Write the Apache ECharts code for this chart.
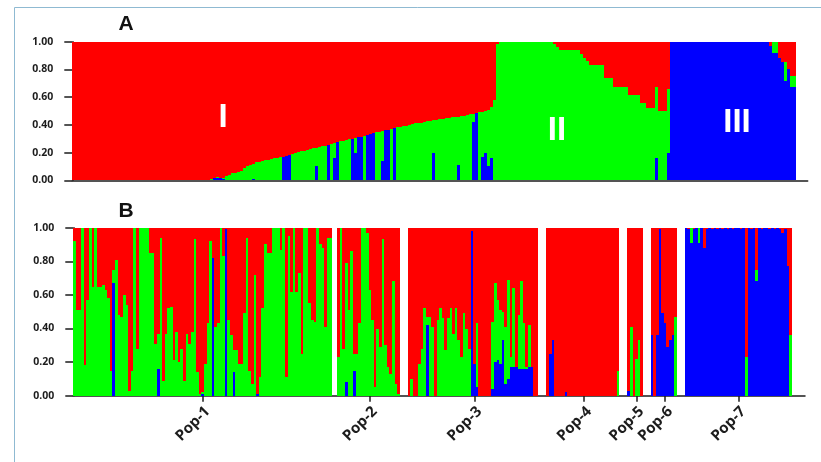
<!DOCTYPE html>
<html><head><meta charset="utf-8">
<script src="https://cdn.jsdelivr.net/npm/echarts@6/dist/echarts.min.js"></script>
<style>html,body{margin:0;padding:0;background:#fff}#c{width:821px;height:462px}</style>
</head><body><div id="c"></div>
<script>
// ---------- tick labels ----------
const yTicks = ['0.00','0.20','0.40','0.60','0.80','1.00'];
const panelLetters = ['A','B'];
const groupNames = ['I','II','III'];

// ---------- Panel A (sorted individuals, K = 3; red = remainder) ----------
const greenA = [
0,0,0,0,0,0,0,0,0,0, 0,0,0,0,0,0,0,0,0,0, 0,0,0,0,0,0,0,0,0,0, 0,0,0,0,0,0,0,0,0,0,
0,0,0,0,0,0,.01,0,.005,0,
.01,.03,.04,.05,.05,.06,.07,.09,.10,.11,
.11,.13,.135,.14,.145,.15,.155,.16,.16,.165,
0,0,0,.19,.20,.205,.21,.215,.22,.225,
.23,.135,.24,.245,.25,0,.265,.11,0,.28,
.285,.29,.295,0,.105,0,0,.32,0,0,
0,.345,.35,.215,0,0,.37,0,.383,.387,
.39,.395,.40,.405,.41,.413,.417,.42,.425,.43,
.235,.438,.44,.445,.448,.45,.455,.458,.35,.463,
.467,.471,.475,.06,0,.49,.325,.30,.41,.37,
.58,.98,1,1,1,1,1,1,1,1,
1,1,1,1,1,1,1,1,1,1,
.98,.96,.94,.94,.94,.94,.94,.94,.94,.91,
.88,.86,.83,.83,.83,.83,.83,.74,.74,.74,
.675,.675,.675,.675,.675,.615,.615,.615,.615,.557,
.557,.52,.52,.52,.515,.50,.50,.50,.46,0,
0,0,0,0,0,0,0,0,0,0, 0,0,0,0,0,0,0,0,0,0, 0,0,0,0,0,0,0,0,0,0,
0,0,0,.08,.08,0,0,.13,0,.08,
.08];
const blueA = [
0,0,0,0,0,0,0,0,0,0, 0,0,0,0,0,0,0,0,0,0, 0,0,0,0,0,0,0,0,0,0, 0,0,0,0,0,0,0,0,0,0,
0,0,0,0,0,0,0,.02,.02,.02,
.01,0,0,0,0,0,0,0,0,0,
.01,0,0,0,0,0,0,0,0,0,
.17,.175,.18,0,0,0,0,0,0,0,
0,.10,0,0,0,.255,0,.16,.275,0,
0,0,0,.30,.20,.31,.315,0,.327,.333,
.34,0,0,.14,.36,.365,0,.38,0,0,
0,0,0,0,0,0,0,0,0,0,
.20,0,0,0,0,0,0,0,.11,0,
0,0,0,.42,.485,0,.17,.20,.10,.16,
0,0,0,0,0,0,0,0,0,0, 0,0,0,0,0,0,0,0,0,0, 0,0,0,0,0,0,0,0,0,0,
0,0,0,0,0,0,0,0,0,0, 0,0,0,0,0,0,0,0,0,0,
0,0,0,0,.16,0,0,0,.20,1,
1,1,1,1,1,1,1,1,1,1, 1,1,1,1,1,1,1,1,1,1, 1,1,1,1,1,1,1,1,1,1,
1,1,.97,.92,.92,.88,.85,.72,.80,.67,
.67];

// ---------- Panel B (individuals grouped by population; red = remainder) ----------
const popNames = ['Pop-1','Pop-2','Pop-3','Pop-4','Pop-5','Pop-6','Pop-7'];
const pop1Green = [
.92,.51,.51,1,.18,.57,1,.65,1,.65,
.65,.66,.63,.58,.15,.08,.81,.48,.47,.60,
.54,.03,.15,1,.28,1,1,1,1,.85,
.85,.31,.21,.94,.09,.37,.52,.53,.21,.38,
.20,.28,.09,.37,.31,.38,.93,.14,.01,.01,
.19,.43,.92,0,.41,.43,1,.83,0,.45,
.36,.13,.27,.19,.19,.49,.94,.15,.07,.72,
0,.11,.52,.90,.85,.85,1,1,1,.87,
1,.11,.95,.62,1,.62,.73,.25,1,1,
.55,.45,.44,1,.90,.88,.41,.94,.94];
const pop1Blue = [
0,0,0,0,0,0,0,0,0,0,
0,0,0,0,0,.67,0,0,0,0,
0,0,0,0,0,0,0,0,0,0,
0,0,.16,0,0,0,0,0,0,0,
0,0,0,0,0,0,0,0,0,.01,
0,0,0,.82,0,0,0,0,.99,0,
0,.14,0,0,0,0,0,0,0,0,
.01,0,0,0,0,0,0,0,0,0,
0,0,0,0,0,0,0,0,0,0,
0,0,0,0,0,0,0,0,0];
const pop2Green = [.23,1,.28,.71,.51,.86,.10,.25,.43,1, 1,.97,.63,.45,.05,.40,.29,.93,.30,.17, .13,.68,.07,.01];
const pop2Blue  = [0,0,0,.08,0,0,.15,0,0,0, 0,0,0,0,0,0,0,0,0,0, 0,0,0,0];
const pop3Green = [
0,.10,0,0,.19,.28,.52,.05,.47,.41,
0,.45,.52,.46,.27,.46,.52,.37,.52,.33,
.23,.49,.40,.28,0,0,.38,0,0,0,
0,0,.40,.47,.36,.32,.17,.34,.59,.06,
.47,0,.32,.52,.27,.01,.25,0,0,0];
const pop3Blue = [
0,0,0,0,0,0,0,.42,0,0,
0,0,0,0,0,0,0,0,0,0,
0,0,0,0,.98,.19,.05,0,0,0,
0,0,.04,.20,.21,.19,.33,.07,.10,.17,
.17,.17,.16,.16,.16,.16,.17,.17,0,0];
const pop4Green = [0,0,0,0,0,0,0,0,0,0, 0,0,0,0,0,0,0,0,0,0, 0,0,0,0,0,0,0,.15];
const pop4Blue  = [0,.25,.33,0,0,0,0,.02,0,0, 0,0,0,0,0,0,0,0,0,0, 0,0,0,0,0,0,0,0];
const pop5Green = [0,.41,0,.22,.33,0];
const pop5Blue  = [.03,0,0,0,0,0];
const pop6Green = [0,0,0,0,0,0,0,0,0,.47];
const pop6Blue  = [.36,0,.36,.99,.49,.43,.29,.33,.36,0];
const pop7Green = [0,0,.09,0,0,.09,0,0,0,0, 0,0,0,0,0,0,0,0,0,0, 0,0,0,.23,0,0,0,.07,0,0, 0,0,0,0,0,0,0,0,0,0, .36];
const pop7Blue  = [1,.99,.91,.99,1,.91,1,.88,.99,1, .99,1,.99,1,.99,1,.99,1,.99,1, 1,.99,1,0,1,.99,1,.68,1,.99, 1,1,.99,1,.99,1,.99,.97,.99,.77, 0];

// ---------- build category tables ----------
const popGreen = [pop1Green,pop2Green,pop3Green,pop4Green,pop5Green,pop6Green,pop7Green];
const popBlue  = [pop1Blue,pop2Blue,pop3Blue,pop4Blue,pop5Blue,pop6Blue,pop7Blue];
const gapAfter = [2,3,3,3,3,3,5];   // empty slots between populations (layout only)
const tailA = 4;                    // empty slots at the end of panel A (layout only)

const catsA = [], dataA = [];
greenA.forEach((g,i) => { catsA.push('a'+i); dataA.push([i, blueA[i], g]); });
for (let k = 0; k < tailA; k++) { const i = catsA.length; catsA.push('a'+i); dataA.push([i, '-', '-']); }

const catsB = [], dataB = [], popMid = [];
popGreen.forEach((arr,p) => {
  popMid.push(catsB.length + Math.floor(arr.length / 2));
  arr.forEach((g,i) => { const idx = catsB.length; catsB.push('b'+idx); dataB.push([idx, popBlue[p][i], g]); });
  for (let k = 0; k < gapAfter[p]; k++) { const idx = catsB.length; catsB.push('b'+idx); dataB.push([idx, '-', '-']); }
});
const tickSet = new Set(popMid);

const RED = '#ff0000', GREEN = '#00ff00', BLUE = '#0000ff';
const INK = '#1c1c1c';
const FONT = '"Open Sans", "DejaVu Sans", sans-serif';
const AFONT = '"Liberation Sans", Arial, sans-serif';

function structure(ai, data) {
  return {
    type: 'custom', xAxisIndex: ai, yAxisIndex: ai, silent: true, animation: false,
    encode: { x: 0, y: [1, 2] }, data: data, z: 2,
    renderItem: function (params, api) {
      const i = api.value(0), b = api.value(1), g = api.value(2);
      if (isNaN(b) || isNaN(g)) return null;
      const c = api.coord([i, 0]);
      const w = api.size([1, 0])[0];
      const L = Math.round(c[0] - w / 2), R = Math.round(c[0] + w / 2);
      const y0 = Math.round(c[1]);
      const yb = Math.round(api.coord([i, b])[1]);
      const yg = Math.round(api.coord([i, Math.min(1, b + g)])[1]);
      const y1 = Math.round(api.coord([i, 1])[1]);
      const kids = [];
      const add = (top, bot, fill) => { if (bot - top > 0) kids.push({ type: 'rect', shape: { x: L, y: top, width: R - L, height: bot - top }, style: { fill: fill } }); };
      add(yb, y0, BLUE); add(yg, yb, GREEN); add(y1, yg, RED);
      return { type: 'group', children: kids };
    }
  };
}
function yAxis(gi) {
  return {
    type: 'value', gridIndex: gi, min: 0, max: 1, interval: 0.2,
    axisLine: { show: true, lineStyle: { color: INK, width: 1.5 } },
    axisTick: { show: true, length: 8, lineStyle: { color: INK, width: 1.5 } },
    axisLabel: { formatter: v => yTicks[Math.round(v / 0.2)], fontWeight: 'bold', fontSize: 10.5,
                 color: INK, margin: 19, fontFamily: FONT },
    splitLine: { show: false }
  };
}
function txt(x, y, t, fill, size) {
  return { type: 'text', silent: true, z: 100, x: x, y: y,
           style: { text: t, fill: fill, fontSize: size, fontWeight: 'bold', fontFamily: AFONT, align: 'center', verticalAlign: 'middle' } };
}
const baseGraphic = [
  { type: 'line', silent: true, z: 100, shape: { x1: 14.5, y1: 7.5, x2: 821, y2: 7.5 }, style: { stroke: '#8fbad2', lineWidth: 1 } },
  { type: 'line', silent: true, z: 100, shape: { x1: 14.5, y1: 7.5, x2: 14.5, y2: 462 }, style: { stroke: '#8fbad2', lineWidth: 1 } },
  txt(126, 24, panelLetters[0], '#111', 21),
  txt(126, 211, panelLetters[1], '#111', 21),
  txt(223, 118, groupNames[0], '#ffffff', 33),
  txt(557, 131, groupNames[1], '#ffffff', 33),
  txt(737, 123, groupNames[2], '#ffffff', 33)
];

const chart = echarts.init(document.getElementById('c'), null, { renderer: 'canvas' });
chart.setOption({
  backgroundColor: '#ffffff',
  animation: false,
  grid: [
    { left: 72.3, top: 41.7, width: 735.4, height: 138.6, outerBoundsMode: 'none', containLabel: false },
    { left: 73.3, top: 227.7, width: 731.7, height: 168, outerBoundsMode: 'none', containLabel: false }
  ],
  xAxis: [
    { type: 'category', gridIndex: 0, data: catsA, boundaryGap: true,
      axisLine: { show: true, lineStyle: { color: INK, width: 1.5 } },
      axisTick: { show: false }, axisLabel: { show: false }, splitLine: { show: false } },
    { type: 'category', gridIndex: 1, data: catsB, boundaryGap: true,
      axisLine: { show: true, lineStyle: { color: INK, width: 1.5 } },
      axisTick: { show: true, interval: (i) => tickSet.has(i), alignWithLabel: true, length: 6, lineStyle: { color: INK, width: 1.5 } },
      axisLabel: { show: false },
      splitLine: { show: false } }
  ],
  yAxis: [yAxis(0), yAxis(1)],
  series: [structure(0, dataA), structure(1, dataB)],
  graphic: baseGraphic
});

// population labels, rotated 45°, anchored at each population tick through the axis scale
const baseY = chart.convertToPixel({ yAxisIndex: 1 }, 0);
const popLabels = popMid.map((idx, p) => {
  const x = chart.convertToPixel({ xAxisIndex: 1 }, catsB[idx]);
  return { type: 'text', silent: true, z: 100, x: x + 5, y: baseY + 13.5, rotation: Math.PI / 4,
           style: { text: popNames[p], fill: INK, fontSize: 15, fontWeight: 'bold', fontFamily: FONT, align: 'right', verticalAlign: 'middle' } };
});
chart.setOption({ graphic: baseGraphic.concat(popLabels) });
</script></body></html>
